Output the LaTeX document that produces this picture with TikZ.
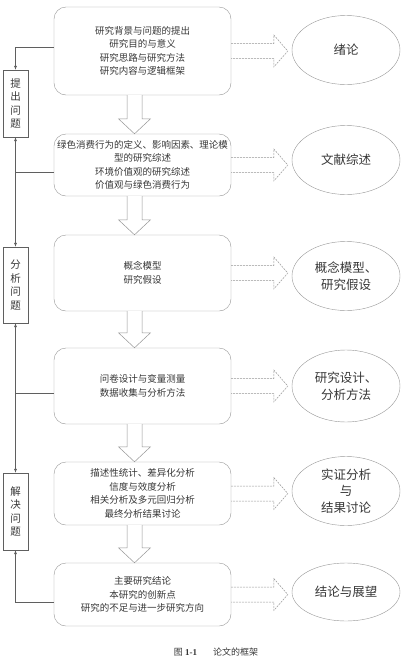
\documentclass[tikz,border=0pt]{standalone}
\usepackage{fontspec}
\setmainfont{Noto Sans CJK SC}
\newfontfamily\latinserif{Liberation Serif}
\usetikzlibrary{shapes.geometric,arrows.meta,calc}

\definecolor{linegray}{RGB}{150,150,150}
\definecolor{textgray}{RGB}{55,55,55}
\definecolor{flowgray}{RGB}{95,95,95}

\tikzset{
  stage/.style={draw=linegray, rounded corners=12pt, minimum width=177pt, inner sep=1pt,
    align=center, text=textgray, font=\fontsize{9.5}{13.5}\selectfont},
  chapter/.style={draw=linegray, ellipse, minimum width=108pt, minimum height=69pt, inner sep=0pt,
    align=center, text=textgray, font=\fontsize{12.5}{16.5}\selectfont},
  phase/.style={draw=flowgray, minimum width=25pt, inner sep=0pt,
    align=center, text=textgray, font=\fontsize{10.5}{13.5}\selectfont},
  flow/.style={draw=flowgray, line width=0.5pt, >={Latex[length=4pt,width=3pt]}},
  downarrow/.style={draw=linegray, line width=0.5pt, fill=white},
  sidearrow/.style={draw=linegray, line width=0.5pt, dashed, dash pattern=on 2pt off 1pt}
}

\begin{document}
\begin{tikzpicture}[x=1pt, y=-1pt]

    \useasboundingbox (0,0) rectangle (410,670);

    % main stages
    \node [stage, minimum height=88pt] (b1) at (142.5,51) {研究背景与问题的提出\\研究目的与意义\\研究思路与研究方法\\研究内容与逻辑框架};
    \node [stage, minimum height=62pt] (b2) at (142.5,165) {绿色消费行为的定义、影响因素、理论模\\型的研究综述\\环境价值观的研究综述\\价值观与绿色消费行为};
    \node [stage, minimum height=76pt] (b3) at (142.5,273) {概念模型\\研究假设};
    \node [stage, minimum height=76pt] (b4) at (142.5,386) {问卷设计与变量测量\\数据收集与分析方法};
    \node [stage, minimum height=63pt] (b5) at (142.5,493.5) {描述性统计、差异化分析\\信度与效度分析\\相关分析及多元回归分析\\最终分析结果讨论};
    \node [stage, minimum height=63pt] (b6) at (142.5,594.5) {主要研究结论\\本研究的创新点\\研究的不足与进一步研究方向};

    % chapters
    \node [chapter] (e1) at (346,50) {绪论};
    \node [chapter] (e2) at (346,160) {文献综述};
    \node [chapter] (e3) at (346,276) {概念模型、\\研究假设};
    \node [chapter, minimum height=72pt] (e4) at (346,386) {研究设计、\\分析方法};
    \node [chapter] (e5) at (346,491) {实证分析\\与\\结果讨论};
    \node [chapter, minimum height=58pt] (e6) at (346,592) {结论与展望};

    % phases
    \node [phase, minimum height=67pt] (p1) at (15.5,103.5) {提\\出\\问\\题};
    \node [phase, minimum height=76pt] (p2) at (15.5,285) {分\\析\\问\\题};
    \node [phase, minimum height=77pt] (p3) at (15.5,511.5) {解\\决\\问\\题};

    % hollow arrows between stages
    \foreach \a/\b in {b1/b2, b2/b3, b3/b4, b4/b5, b5/b6}
        \draw [downarrow] ($(\a.south)+(-15.5,0)$) -- ($(\b.north)+(-15.5,-15)$) -- ($(\b.north)+(-24,-15)$)
            -- ($(\b.north)+(-8,0)$) -- ($(\b.north)+(8,-15)$) -- ($(\b.north)+(-0.5,-15)$) -- ($(\a.south)+(-0.5,0)$);

    % dashed arrows to chapters
    \foreach \a/\b in {b1/e1, b2/e2, b3/e3, b4/e4, b5/e5, b6/e6}
        \draw [sidearrow] ($(\a.east)+(0,-7.5)$) -- ($(\a.east -| \b.west)+(-18,-7.5)$) -- ($(\a.east -| \b.west)+(-18,-16)$)
            -- ($(\a.east -| \b.west)+(-4,0)$) -- ($(\a.east -| \b.west)+(-18,16)$) -- ($(\a.east -| \b.west)+(-18,7.5)$)
            -- ($(\a.east)+(0,7.5)$);

    % left flow
    \draw [flow, ->] ([yshift=4pt]b1.west) -| (p1.north);
    \draw [flow, <->] (p1.south) -- (p2.north);
    \draw [flow] ([yshift=-7pt]b2.west) -- ([yshift=-7pt]b2.west -| p1.south);
    \draw [flow, <->] (p2.south) -- (p3.north);
    \draw [flow] ([yshift=-7pt]b4.west) -- ([yshift=-7pt]b4.west -| p2.south);
    \draw [flow, ->] ([yshift=-7.5pt]b6.west) -| (p3.south);

    \node [text=textgray, font=\fontsize{9}{11}\selectfont] (cap) at (216,652) {图 {\latinserif\bfseries 1-1}\hspace{16pt}论文的框架};

\end{tikzpicture}
\end{document}
